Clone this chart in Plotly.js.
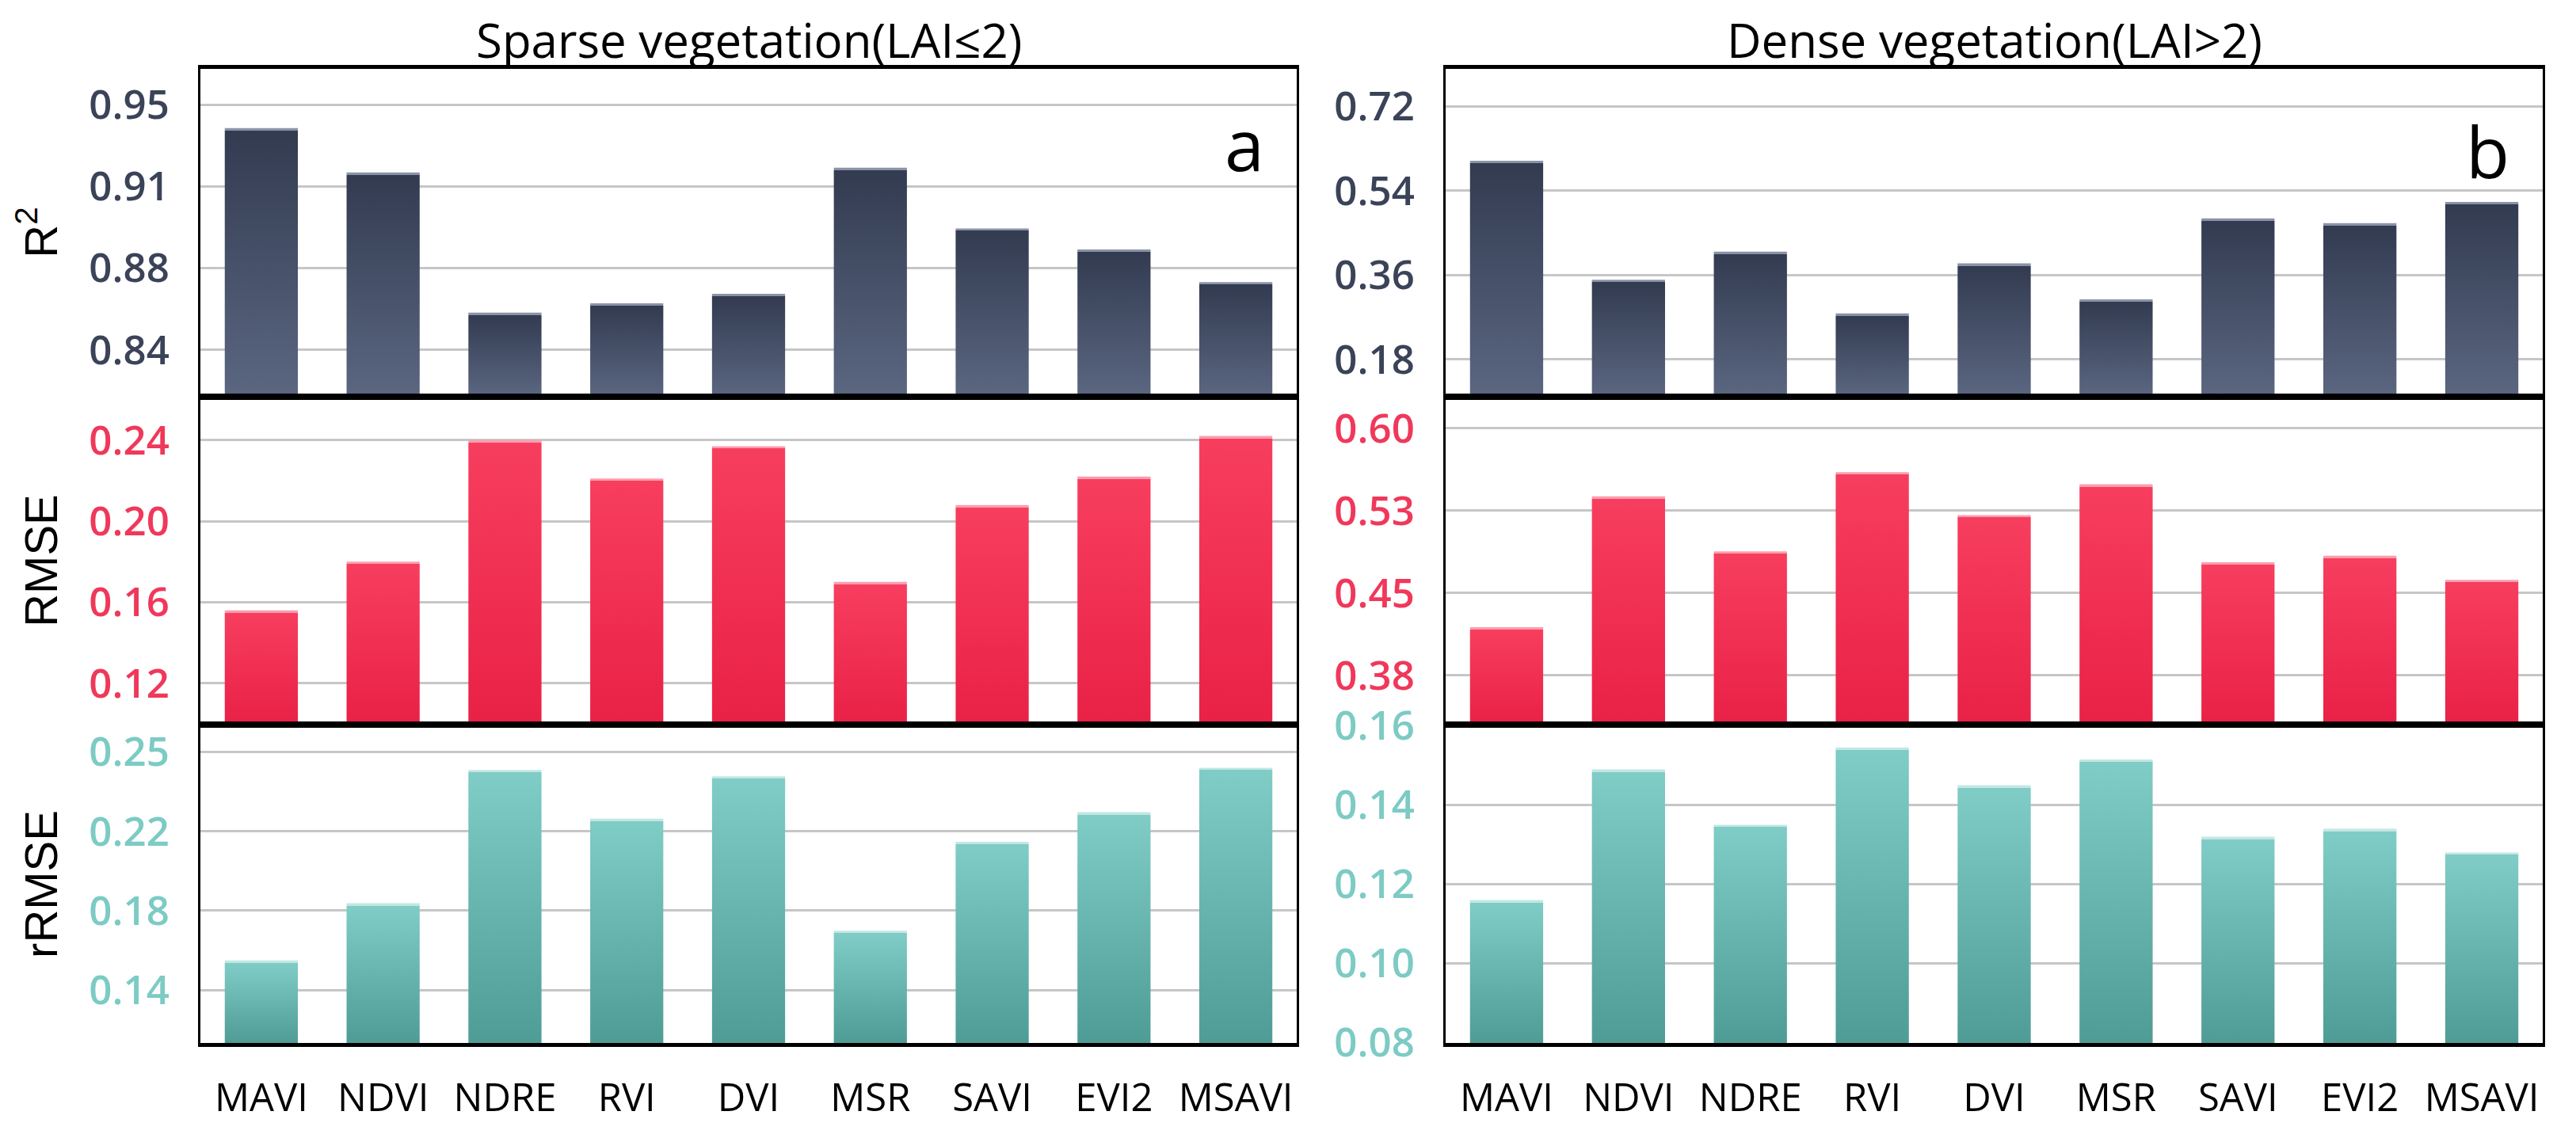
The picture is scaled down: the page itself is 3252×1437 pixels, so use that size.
<!DOCTYPE html>
<html>
<head>
<meta charset="utf-8">
<script src="https://cdn.plot.ly/plotly-3.0.1.min.js"></script>
<style>
  html, body { margin: 0; padding: 0; background: #ffffff; }
  #chart { width: 3252px; height: 1437px; }
</style>
</head>
<body>
<div id="chart"></div>
<script>
// ---------------- data ----------------
const categories = ["MAVI", "NDVI", "NDRE", "RVI", "DVI", "MSR", "SAVI", "EVI2", "MSAVI"];

const r2Sparse    = [0.935, 0.916, 0.856, 0.860, 0.864, 0.918, 0.892, 0.883, 0.869];
const rmseSparse  = [0.156, 0.180, 0.240, 0.221, 0.237, 0.170, 0.208, 0.222, 0.242];
const rrmseSparse = [0.154, 0.181, 0.244, 0.221, 0.241, 0.168, 0.210, 0.224, 0.245];

const r2Dense     = [0.604, 0.350, 0.410, 0.278, 0.385, 0.308, 0.481, 0.471, 0.516];
const rmseDense   = [0.419, 0.538, 0.488, 0.560, 0.521, 0.549, 0.478, 0.484, 0.462];
const rrmseDense  = [0.116, 0.149, 0.135, 0.1545, 0.145, 0.1515, 0.132, 0.134, 0.128];

const r2SparseTicks    = [0.84, 0.875, 0.91, 0.945];
const r2SparseLabels   = ["0.84", "0.88", "0.91", "0.95"];
const rmseSparseTicks  = [0.12, 0.16, 0.20, 0.24];
const rmseSparseLabels = ["0.12", "0.16", "0.20", "0.24"];
const rrmseSparseTicks  = [0.14, 0.1775, 0.215, 0.2525];
const rrmseSparseLabels = ["0.14", "0.18", "0.22", "0.25"];

const r2DenseTicks    = [0.18, 0.36, 0.54, 0.72];
const r2DenseLabels   = ["0.18", "0.36", "0.54", "0.72"];
const rmseDenseTicks  = [0.375, 0.45, 0.525, 0.60];
const rmseDenseLabels = ["0.38", "0.45", "0.53", "0.60"];
const rrmseDenseTicks  = [0.08, 0.10, 0.12, 0.14, 0.16];
const rrmseDenseLabels = ["0.08", "0.10", "0.12", "0.14", "0.16"];

const panelTitles = ["Sparse vegetation(LAI\u22642)", "Dense vegetation(LAI>2)"];
const panelLetters = ["a", "b"];
const metricTitles = ["R<sup>2</sup>", "RMSE", "rRMSE"];

// ---------------- styles ----------------
const COLORS = {
  r2:    { top: "#323b50", bottom: "#5b6681", cap: "#8a93a6", tick: "#3a4358", solid: "#454e66" },
  rmse:  { top: "#f73e5e", bottom: "#e92146", cap: "#fa9cae", tick: "#f0385a", solid: "#f0304f" },
  rrmse: { top: "#80ccc6", bottom: "#4f9c96", cap: "#c2e7e3", tick: "#7ccbc4", solid: "#6bb8b2" }
};

const W = 3252, H = 1437;
const xDomA = [253 / W, 1637 / W];
const xDomB = [1825 / W, 3210 / W];
const yDom = {
  r2:    [1 - 500 / H, 1 - 87 / H],
  rmse:  [1 - 914 / H, 1 - 502 / H],
  rrmse: [1 - 1317 / H, 1 - 916 / H]
};

function bar(y, xa, ya, metric) {
  return {
    type: "bar", x: categories, y: y, xaxis: xa, yaxis: ya, meta: metric,
    marker: { color: COLORS[metric].solid, line: { width: 0 } },
    showlegend: false, hoverinfo: "x+y"
  };
}

const data = [
  bar(r2Sparse, "x", "y", "r2"),
  bar(rmseSparse, "x2", "y2", "rmse"),
  bar(rrmseSparse, "x3", "y3", "rrmse"),
  bar(r2Dense, "x4", "y4", "r2"),
  bar(rmseDense, "x5", "y5", "rmse"),
  bar(rrmseDense, "x6", "y6", "rrmse")
];

function xAxis(domain, anchor, labels) {
  return {
    domain: domain, anchor: anchor, type: "category",
    showticklabels: labels, ticks: "", ticklabelstandoff: 22,
    tickfont: { family: "Open Sans, Noto Sans, sans-serif", size: 49, color: "#000000" },
    showline: true, linecolor: "#000000", linewidth: 5, mirror: true,
    showgrid: false, zeroline: false, fixedrange: true
  };
}
function yAxis(domain, anchor, range, tickvals, ticktext, metric, title) {
  const ax = {
    domain: domain, anchor: anchor, range: range,
    tickmode: "array", tickvals: tickvals, ticktext: ticktext,
    ticks: "", ticklabelstandoff: 26,
    tickfont: { family: "Open Sans, Noto Sans, sans-serif", size: 51, color: COLORS[metric].tick, weight: 600 },
    showline: true, linecolor: "#000000", linewidth: 3, mirror: true,
    showgrid: true, gridcolor: "#c6c6c6", gridwidth: 3,
    zeroline: false, fixedrange: true
  };
  if (title) {
    ax.title = { text: title, standoff: 22,
      font: { family: "Liberation Sans, Arial, sans-serif", size: 58, color: "#000000" } };
  }
  return ax;
}

const layout = {
  width: W, height: H,
  margin: { l: 0, r: 0, t: 0, b: 0 },
  paper_bgcolor: "#ffffff", plot_bgcolor: "#ffffff",
  bargap: 0.4,
  showlegend: false,
  xaxis:  xAxis(xDomA, "y", false),
  xaxis2: xAxis(xDomA, "y2", false),
  xaxis3: xAxis(xDomA, "y3", true),
  xaxis4: xAxis(xDomB, "y4", false),
  xaxis5: xAxis(xDomB, "y5", false),
  xaxis6: xAxis(xDomB, "y6", true),
  yaxis:  yAxis(yDom.r2, "x", [0.8203, 0.9603], r2SparseTicks, r2SparseLabels, "r2", metricTitles[0]),
  yaxis2: yAxis(yDom.rmse, "x2", [0.100, 0.261], rmseSparseTicks, rmseSparseLabels, "rmse", metricTitles[1]),
  yaxis3: yAxis(yDom.rrmse, "x3", [0.115, 0.265], rrmseSparseTicks, rrmseSparseLabels, "rrmse", metricTitles[2]),
  yaxis4: yAxis(yDom.r2, "x4", [0.102, 0.800], r2DenseTicks, r2DenseLabels, "r2", null),
  yaxis5: yAxis(yDom.rmse, "x5", [0.331, 0.628], rmseDenseTicks, rmseDenseLabels, "rmse", null),
  yaxis6: yAxis(yDom.rrmse, "x6", [0.0799, 0.1601], rrmseDenseTicks, rrmseDenseLabels, "rrmse", null),
  annotations: [
    { text: panelTitles[0], xref: "paper", yref: "paper", x: (xDomA[0] + xDomA[1]) / 2, y: 1 - 50 / H,
      xanchor: "center", yanchor: "middle", showarrow: false,
      font: { family: "Open Sans, Noto Sans, sans-serif", size: 60, color: "#000000" } },
    { text: panelTitles[1], xref: "paper", yref: "paper", x: (xDomB[0] + xDomB[1]) / 2, y: 1 - 50 / H,
      xanchor: "center", yanchor: "middle", showarrow: false,
      font: { family: "Open Sans, Noto Sans, sans-serif", size: 60, color: "#000000" } },
    { text: panelLetters[0], xref: "paper", yref: "paper", x: 1571 / W, y: 1 - 181 / H,
      xanchor: "center", yanchor: "middle", showarrow: false,
      font: { family: "Open Sans, Noto Sans, sans-serif", size: 90, color: "#000000" } },
    { text: panelLetters[1], xref: "paper", yref: "paper", x: 3140 / W, y: 1 - 190 / H,
      xanchor: "center", yanchor: "middle", showarrow: false,
      font: { family: "Open Sans, Noto Sans, sans-serif", size: 90, color: "#000000" } }
  ]
};

const gd = document.getElementById("chart");
Plotly.newPlot(gd, data, layout, { displayModeBar: false, responsive: false }).then(applyGradients);

// vertical gradient on each bar (top colour -> bottom colour), with a light cap strip
function applyGradients() {
  const NS = "http://www.w3.org/2000/svg";
  const svg = gd.querySelector("svg.main-svg");
  let defs = svg.querySelector("defs");
  if (!defs) { defs = document.createElementNS(NS, "defs"); svg.insertBefore(defs, svg.firstChild); }
  let k = 0;
  gd.querySelectorAll("g.trace.bars").forEach(function (g) {
    const cd = g.__data__;
    const tr = cd && cd[0] && cd[0].trace;
    if (!tr || !COLORS[tr.meta]) return;
    const c = COLORS[tr.meta];
    const ya = gd._fullLayout["yaxis" + tr.yaxis.slice(1)];
    const bottom = ya._length;
    g.querySelectorAll("path").forEach(function (p) {
      const bb = p.getBBox();
      const top = Math.max(bb.y, 0);
      const h = Math.max(bottom - top, 1);
      const capF = Math.min(3 / h, 0.5);
      const id = "bargrad" + (k++);
      const lg = document.createElementNS(NS, "linearGradient");
      lg.setAttribute("id", id);
      lg.setAttribute("gradientUnits", "userSpaceOnUse");
      lg.setAttribute("x1", 0); lg.setAttribute("x2", 0);
      lg.setAttribute("y1", top); lg.setAttribute("y2", bottom);
      [[0, c.cap], [capF, c.cap], [capF, c.top], [1, c.bottom]].forEach(function (s) {
        const st = document.createElementNS(NS, "stop");
        st.setAttribute("offset", s[0]);
        st.setAttribute("stop-color", s[1]);
        lg.appendChild(st);
      });
      defs.appendChild(lg);
      p.style.fill = "url(#" + id + ")";
    });
  });
}
</script>
</body>
</html>
